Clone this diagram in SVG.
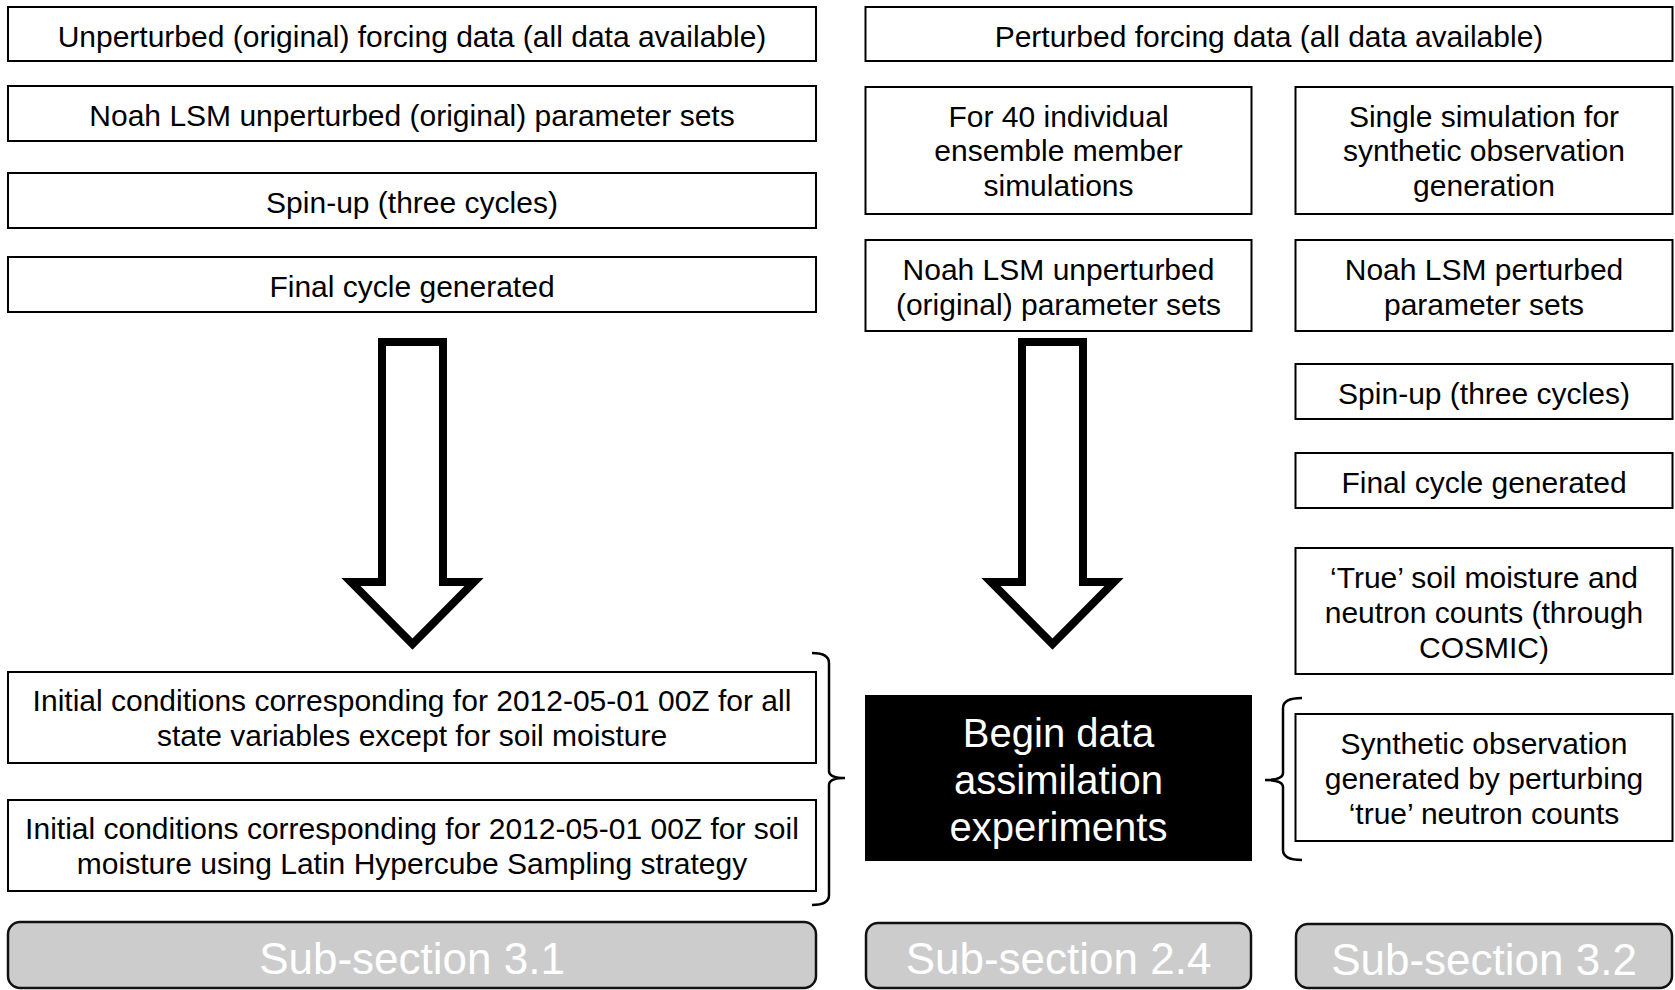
<svg xmlns="http://www.w3.org/2000/svg" width="1675" height="990" viewBox="0 0 1675 990">
<style>
.box{fill:#fff;stroke:#000;stroke-width:2}
.t{font-family:"Liberation Sans",Arial,sans-serif;font-size:30px;fill:#000;text-anchor:middle}
.dark{fill:#000;stroke:#000;stroke-width:2}
.tw{font-family:"Liberation Sans",Arial,sans-serif;font-size:40px;fill:#fff;text-anchor:middle}
.sub{fill:#cccccc;stroke:#111;stroke-width:2.5}
.ts{font-family:"Liberation Sans",Arial,sans-serif;font-size:44px;fill:#fff;text-anchor:middle}
.arrow{fill:#fff;stroke:#000;stroke-width:8;stroke-linejoin:miter}
.brace{fill:none;stroke:#000;stroke-width:2.5}
</style>
<rect width="1675" height="990" fill="#fff"/>

<g id="n-unperturbed-forcing"><rect class="box" x="8" y="7" width="808" height="54"/><text class="t" x="412" y="46.5">Unperturbed (original) forcing data (all data available)</text></g>
<g id="n-noah-unperturbed-left"><rect class="box" x="8" y="86" width="808" height="55"/><text class="t" x="412" y="126">Noah LSM unperturbed (original) parameter sets</text></g>
<g id="n-spinup-left"><rect class="box" x="8" y="173" width="808" height="55"/><text class="t" x="412" y="213">Spin-up (three cycles)</text></g>
<g id="n-final-left"><rect class="box" x="8" y="257" width="808" height="55"/><text class="t" x="412" y="297">Final cycle generated</text></g>
<g id="n-initial-all"><rect class="box" x="8" y="672" width="808" height="91"/><text class="t" x="412" y="711">Initial conditions corresponding for 2012-05-01 00Z for all</text><text class="t" x="412" y="746">state variables except for soil moisture</text></g>
<g id="n-initial-soil"><rect class="box" x="8" y="800" width="808" height="91"/><text class="t" x="412" y="839">Initial conditions corresponding for 2012-05-01 00Z for soil</text><text class="t" x="412" y="874">moisture using Latin Hypercube Sampling strategy</text></g>
<g id="n-sub31"><rect class="sub" x="8" y="922" width="808" height="66" rx="12"/><text class="ts" x="412" y="974">Sub-section 3.1</text></g>

<g id="n-perturbed-forcing"><rect class="box" x="865.5" y="7" width="807" height="54"/><text class="t" x="1269" y="46.5">Perturbed forcing data (all data available)</text></g>
<g id="n-for40"><rect class="box" x="865.5" y="87" width="386" height="127"/><text class="t" x="1058.5" y="126.5">For 40 individual</text><text class="t" x="1058.5" y="161">ensemble member</text><text class="t" x="1058.5" y="195.5">simulations</text></g>
<g id="n-single"><rect class="box" x="1295.5" y="87" width="377" height="127"/><text class="t" x="1484" y="126.5">Single simulation for</text><text class="t" x="1484" y="161">synthetic observation</text><text class="t" x="1484" y="195.5">generation</text></g>
<g id="n-noah-unperturbed-mid"><rect class="box" x="865.5" y="240" width="386" height="91"/><text class="t" x="1058.5" y="280">Noah LSM unperturbed</text><text class="t" x="1058.5" y="315">(original) parameter sets</text></g>
<g id="n-noah-perturbed"><rect class="box" x="1295.5" y="240" width="377" height="91"/><text class="t" x="1484" y="280">Noah LSM perturbed</text><text class="t" x="1484" y="315">parameter sets</text></g>
<g id="n-spinup-right"><rect class="box" x="1295.5" y="364" width="377" height="55"/><text class="t" x="1484" y="404">Spin-up (three cycles)</text></g>
<g id="n-final-right"><rect class="box" x="1295.5" y="453" width="377" height="55"/><text class="t" x="1484" y="493">Final cycle generated</text></g>
<g id="n-true"><rect class="box" x="1295.5" y="548" width="377" height="126"/><text class="t" x="1484" y="587.5">‘True’ soil moisture and</text><text class="t" x="1484" y="622.5">neutron counts (through</text><text class="t" x="1484" y="657.5">COSMIC)</text></g>
<g id="n-begin"><rect class="dark" x="866" y="696" width="385" height="164"/><text class="tw" x="1058.5" y="747">Begin data</text><text class="tw" x="1058.5" y="794">assimilation</text><text class="tw" x="1058.5" y="841">experiments</text></g>
<g id="n-synthetic"><rect class="box" x="1295.5" y="714" width="377" height="127"/><text class="t" x="1484" y="753.5">Synthetic observation</text><text class="t" x="1484" y="788.5">generated by perturbing</text><text class="t" x="1484" y="823.5">‘true’ neutron counts</text></g>
<g id="n-sub24"><rect class="sub" x="866" y="923" width="385" height="65" rx="12"/><text class="ts" x="1058.5" y="974">Sub-section 2.4</text></g>
<g id="n-sub32"><rect class="sub" x="1296" y="924" width="376" height="64" rx="12"/><text class="ts" x="1484" y="975">Sub-section 3.2</text></g>

<g id="connectors">
<path class="arrow" d="M382,342 H443 V582 H474 L412.5,644 L351,582 H382 Z"/>
<path class="arrow" d="M1022,342 H1083 V582 H1114 L1052.5,644 L991,582 H1022 Z"/>
<path class="brace" d="M812,653 Q829,653 829,663 L829,771 Q829,778 845,778 Q829,778 829,785 L829,895 Q829,905 812,905"/>
<path class="brace" d="M1302,698 Q1283,698 1283,708 L1283,773 Q1283,780 1265,780 Q1283,780 1283,787 L1283,850 Q1283,860 1302,860"/>
</g>
</svg>
